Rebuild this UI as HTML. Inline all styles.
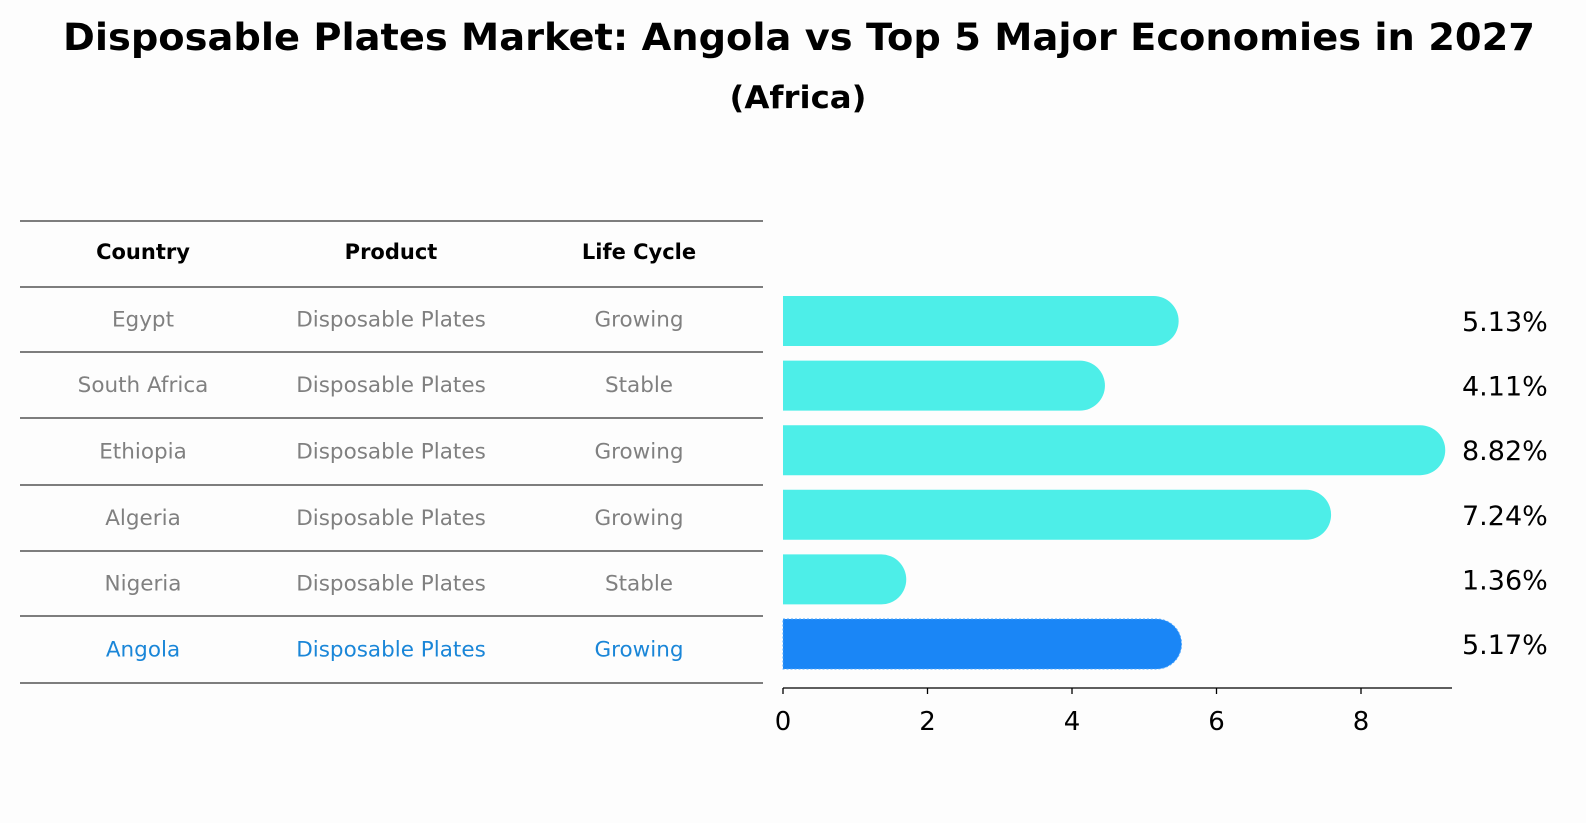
<!DOCTYPE html>
<html><head><meta charset="utf-8"><style>
body{margin:0;background:#fdfdfd;}
svg{display:block;font-family:"DejaVu Sans","Liberation Sans",sans-serif;}
</style></head><body>
<svg id="chart" width="1586" height="823" viewBox="0 0 1586 823">
<rect width="1586" height="823" fill="#fdfdfd"/>
<text x="799" y="50" text-anchor="middle" font-size="37" font-weight="bold" textLength="1472" lengthAdjust="spacingAndGlyphs">Disposable Plates Market: Angola vs Top 5 Major Economies in 2027</text>
<text x="798" y="108" text-anchor="middle" font-size="31" font-weight="bold" textLength="137" lengthAdjust="spacingAndGlyphs">(Africa)</text>
<g id="table"></g>
<g id="bars"></g>
<g id="axis"></g>
</svg>
<script>
const countries=["Egypt","South Africa","Ethiopia","Algeria","Nigeria","Angola"];
const products=["Disposable Plates","Disposable Plates","Disposable Plates","Disposable Plates","Disposable Plates","Disposable Plates"];
const lifeCycles=["Growing","Stable","Growing","Growing","Stable","Growing"];
const values=[5.13,4.11,8.82,7.24,1.36,5.17];
const ticks=[0,2,4,6,8];
const NS="http://www.w3.org/2000/svg";
function mk(t,a,p,txt){const e=document.createElementNS(NS,t);for(const k in a)e.setAttribute(k,a[k]);if(txt!==undefined)e.textContent=txt;p.appendChild(e);return e;}
const x0=783,ppu=72.25;
const xs=v=>x0+v*ppu;
const rowY=i=>321+i*64.6;
const barH=50;
const tb=document.getElementById('table');
const lineYs=[221,287,352,418,485,551,616,683];
lineYs.forEach(y=>{const l=mk('line',{x1:20,x2:763,y1:y,y2:y,stroke:'#000','stroke-width':1},tb);

});
const colX=[143,391,639];
["Country","Product","Life Cycle"].forEach((h,j)=>{const t=mk('text',{x:colX[j],y:259,'text-anchor':'middle','font-size':21,'font-weight':'bold'},tb,h);

});
countries.forEach((c,i)=>{
  const y=(lineYs[i+1]+lineYs[i+2])/2+7;
  const col=c==="Angola"?"#1a86d8":"#808080";
  [c,products[i],lifeCycles[i]].forEach((v,j)=>{const t=mk('text',{x:colX[j],y:y,'text-anchor':'middle','font-size':21.5,fill:col},tb,v);
  
  });
});
const bg=document.getElementById('bars');
values.forEach((v,i)=>{
  const cy=rowY(i),r=barH/2,xe=xs(v);
  const hi=countries[i]==="Angola";
  const p=mk('path',{d:`M${x0},${cy-r} L${xe},${cy-r} A${r},${r} 0 0 1 ${xe},${cy+r} L${x0},${cy+r} Z`,fill:hi?'#1a86f6':'#4deee8',stroke:hi?'#4ba6ff':'none','stroke-dasharray':hi?'2,2':'none'},bg);
  
  
  const t=mk('text',{x:1462,y:cy+10,'font-size':27},bg,v.toFixed(2)+'%');
  
  
});
const ax=document.getElementById('axis');
const al=mk('line',{x1:x0,x2:1452,y1:688,y2:688,stroke:'#000','stroke-width':1.3},ax);


ticks.forEach(t=>{
  const l=mk('line',{x1:xs(t),x2:xs(t),y1:688,y2:694,stroke:'#000','stroke-width':1.3},ax);
  
  
  const tx=mk('text',{x:xs(t),y:730,'text-anchor':'middle','font-size':26},ax,String(t));
  
  
});
</script>
</body></html>
